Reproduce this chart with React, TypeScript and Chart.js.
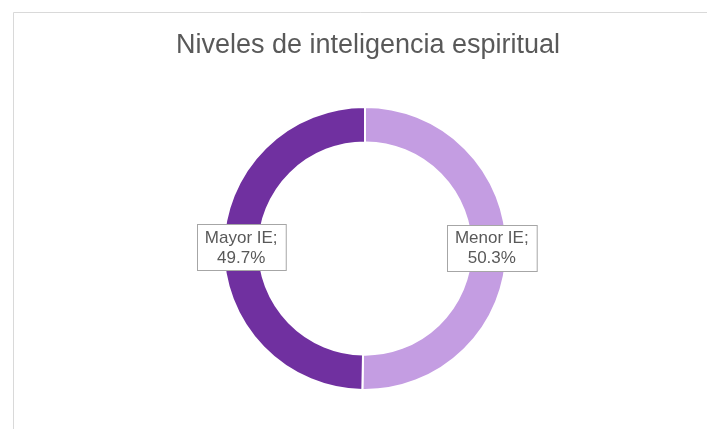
import React, { useEffect, useRef } from "react";
import { Chart, registerables } from "chart.js";

Chart.register(...registerables);

const titleText = "Niveles de inteligencia espiritual";
const categories = ["Menor IE", "Mayor IE"];
const values = [50.3, 49.7];
const colors = ["#C49DE2", "#7030A0"];

const FONT = "'Liberation Sans', Arial, sans-serif";

const framePlugin = {
  id: "frame",
  beforeDraw(chart: any) {
    const ctx = chart.ctx;
    ctx.save();
    ctx.fillStyle = "#ffffff";
    ctx.fillRect(0, 0, chart.width, chart.height);
    ctx.strokeStyle = "#d9d9d9";
    ctx.lineWidth = 1;
    ctx.beginPath();
    ctx.moveTo(13.5, chart.height + 5);
    ctx.lineTo(13.5, 12.5);
    ctx.lineTo(chart.width + 5, 12.5);
    ctx.stroke();
    ctx.fillStyle = "#595959";
    ctx.font = `27px ${FONT}`;
    ctx.textAlign = "center";
    ctx.textBaseline = "alphabetic";
    ctx.fillText(titleText, 368, 53);
    ctx.restore();
  },
};

const labelPlugin = {
  id: "boxLabels",
  afterDatasetsDraw(chart: any) {
    const ctx = chart.ctx;
    const meta = chart.getDatasetMeta(0);
    const ds = chart.data.datasets[0];
    ctx.save();
    ctx.font = `17px ${FONT}`;
    ctx.textAlign = "center";
    ctx.textBaseline = "middle";
    meta.data.forEach((arc: any, i: number) => {
      const p = arc.getCenterPoint();
      const cx = p.x + (i === 0 ? 3 : 0);
      const cy = p.y - (i === 0 ? 2 : 0);
      const lines = [`${chart.data.labels[i]};`, `${ds.data[i].toFixed(1)}%`];
      const lh = 20;
      const w = Math.max(...lines.map((l) => ctx.measureText(l).width)) + 16;
      const h = lines.length * lh + 6;
      const x = Math.round(cx - w / 2) + 0.5;
      const y = Math.round(cy - h / 2) + 0.5;
      ctx.fillStyle = "#ffffff";
      ctx.fillRect(x, y, w, h);
      ctx.strokeStyle = "#a6a6a6";
      ctx.lineWidth = 1;
      ctx.strokeRect(x, y, w, h);
      ctx.fillStyle = "#595959";
      lines.forEach((l, k) => {
        ctx.fillText(l, cx, cy + (k - (lines.length - 1) / 2) * lh + 1);
      });
    });
    ctx.restore();
  },
};

export default function App() {
  const ref = useRef<HTMLCanvasElement>(null);
  useEffect(() => {
    if (!ref.current) return;
    const chart = new Chart(ref.current, {
      type: "doughnut",
      data: {
        labels: categories,
        datasets: [
          {
            data: values,
            backgroundColor: colors,
            borderColor: "#ffffff",
            borderWidth: 2,
          },
        ],
      },
      options: {
        responsive: false,
        animation: false,
        cutout: "75%",
        layout: { padding: { left: 222, right: 199, top: 106, bottom: 38 } },
        plugins: {
          legend: { display: false },
          tooltip: { enabled: false },
          title: { display: false },
        },
      },
      plugins: [framePlugin, labelPlugin],
    });
    return () => chart.destroy();
  }, []);
  return (
    <div style={{ position: "fixed", left: 0, top: 0, width: 707, height: 429, background: "#fff" }}>
      <canvas ref={ref} width={707} height={429} style={{ display: "block" }} />
    </div>
  );
}
